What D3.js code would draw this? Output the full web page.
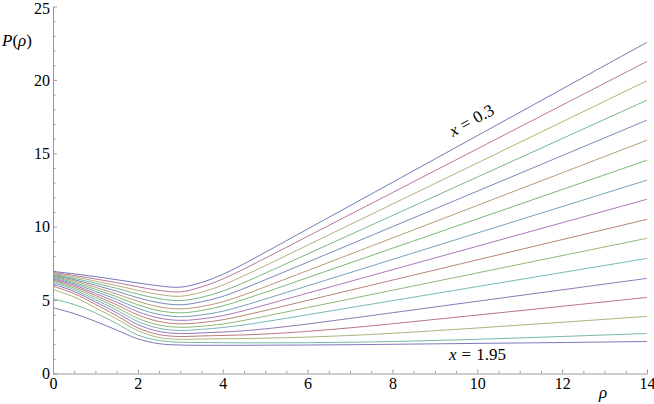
<!DOCTYPE html>
<html>
<head>
<meta charset="utf-8">
<script src="https://cdn.jsdelivr.net/npm/d3@7"></script>
<style>
  body { margin: 0; background: #fff; }
  svg { display: block; }
  svg text { font-family: "Liberation Serif", "Times New Roman", serif; }
</style>
</head>
<body>
<svg id="chart" width="654" height="404"></svg>
<script>
// sample points along rho
const rho = [0, 0.5, 1, 1.5, 2, 2.5, 3, 3.5, 4, 4.5, 5, 6, 7, 8, 10, 12, 14];

// P(rho) for each curve, top (x = 0.3) to bottom (x = 1.95)
const c01 = [6.95, 6.79, 6.60, 6.39, 6.17, 5.97, 5.88, 6.20, 6.75, 7.47, 8.25, 9.84, 11.43, 13.02, 16.20, 19.38, 22.56];
const c02 = [6.88, 6.68, 6.44, 6.19, 5.91, 5.66, 5.56, 5.90, 6.43, 7.12, 7.85, 9.34, 10.83, 12.32, 15.30, 18.28, 21.26];
const c03 = [6.81, 6.58, 6.29, 5.99, 5.66, 5.38, 5.26, 5.54, 6.02, 6.66, 7.34, 8.74, 10.14, 11.54, 14.34, 17.14, 19.94];
const c04 = [6.75, 6.48, 6.15, 5.80, 5.41, 5.10, 4.97, 5.19, 5.61, 6.19, 6.83, 8.14, 9.45, 10.76, 13.38, 16.00, 18.62];
const c05 = [6.69, 6.39, 6.01, 5.61, 5.16, 4.82, 4.68, 4.88, 5.25, 5.79, 6.38, 7.58, 8.79, 10.00, 12.42, 14.84, 17.26];
const c06 = [6.63, 6.30, 5.87, 5.42, 4.92, 4.54, 4.40, 4.56, 4.88, 5.36, 5.90, 7.01, 8.12, 9.23, 11.45, 13.67, 15.89];
const c07 = [6.57, 6.20, 5.73, 5.23, 4.68, 4.28, 4.13, 4.29, 4.60, 5.05, 5.53, 6.53, 7.53, 8.53, 10.53, 12.53, 14.53];
const c08 = [6.51, 6.11, 5.59, 5.05, 4.44, 4.02, 3.87, 3.99, 4.24, 4.63, 5.07, 5.97, 6.87, 7.77, 9.57, 11.37, 13.17];
const c09 = [6.44, 6.02, 5.45, 4.86, 4.21, 3.78, 3.62, 3.72, 3.94, 4.28, 4.67, 5.47, 6.27, 7.07, 8.67, 10.27, 11.87];
const c10 = [6.37, 5.92, 5.32, 4.68, 3.99, 3.54, 3.38, 3.47, 3.66, 3.96, 4.29, 4.98, 5.67, 6.36, 7.74, 9.12, 10.50];
const c11 = [6.29, 5.82, 5.18, 4.50, 3.76, 3.30, 3.15, 3.22, 3.37, 3.62, 3.90, 4.49, 5.08, 5.67, 6.85, 8.03, 9.21];
const c12 = [6.20, 5.71, 5.03, 4.32, 3.54, 3.08, 2.93, 3.01, 3.13, 3.31, 3.53, 4.00, 4.48, 4.96, 5.92, 6.88, 7.84];
const c13 = [6.09, 5.59, 4.88, 4.14, 3.33, 2.86, 2.72, 2.77, 2.82, 2.91, 3.04, 3.37, 3.75, 4.14, 4.92, 5.70, 6.48];
const c14 = [5.95, 5.44, 4.71, 3.94, 3.11, 2.65, 2.52, 2.56, 2.59, 2.63, 2.69, 2.87, 3.11, 3.39, 3.98, 4.58, 5.18];
const c15 = [5.72, 5.21, 4.48, 3.72, 2.92, 2.45, 2.33, 2.35, 2.37, 2.38, 2.41, 2.48, 2.59, 2.74, 3.10, 3.49, 3.89];
const c16 = [5.08, 4.70, 4.13, 3.40, 2.62, 2.25, 2.13, 2.11, 2.10, 2.09, 2.09, 2.10, 2.13, 2.18, 2.33, 2.52, 2.73];
const c17 = [4.48, 4.08, 3.55, 2.96, 2.36, 2.03, 1.94, 1.92, 1.92, 1.92, 1.93, 1.94, 1.96, 1.99, 2.05, 2.11, 2.18];

const series = [c01, c02, c03, c04, c05, c06, c07, c08, c09, c10, c11, c12, c13, c14, c15, c16, c17];

// Mathematica style hue cycle
const hues = [0.67, 0.9061, 0.1422, 0.3783, 0.6144, 0.0866, 0.3227, 0.5588, 0.7949,
              0.0310, 0.2671, 0.5032, 0.7393, 0.9754, 0.2115, 0.4476, 0.6837];

const xTicks = [0, 2, 4, 6, 8, 10, 12, 14];
const yTicks = [0, 5, 10, 15, 20, 25];

var svg = d3.select("#chart");

var xscale = d3.scaleLinear().domain([0, 14]).range([53, 647]);
var yscale = d3.scaleLinear().domain([0, 25]).range([373.5, 6.5]);

function hsv(h, s, v) {
    var c = d3.hsl(h * 360, 1, 0.5).rgb();
    // full hue colour -> given saturation/value
    var f = function (k) { return Math.round(255 * v * (1 - s + s * k / 255)); };
    return d3.rgb(f(c.r), f(c.g), f(c.b)).toString();
}

var axisColor = "#9a9a9a";

// minor ticks
var minorX = d3.range(0, 14.01, 0.5).filter(function (d) { return xTicks.indexOf(d) < 0; });
var minorY = d3.range(0, 25.01, 1).filter(function (d) { return yTicks.indexOf(d) < 0; });

svg.append("g")
    .attr("transform", "translate(0," + yscale(0) + ")")
    .call(d3.axisBottom(xscale).tickValues(minorX).tickSize(-2.5).tickSizeOuter(0).tickFormat(""))
    .call(function (g) { g.select(".domain").remove(); })
    .selectAll("line").attr("stroke", axisColor);

svg.append("g")
    .attr("transform", "translate(" + xscale(0) + ",0)")
    .call(d3.axisLeft(yscale).tickValues(minorY).tickSize(-2.5).tickSizeOuter(0).tickFormat(""))
    .call(function (g) { g.select(".domain").remove(); })
    .selectAll("line").attr("stroke", axisColor);

// curves
var line = d3.line()
    .x(function (d) { return xscale(d[0]); })
    .y(function (d) { return yscale(d[1]); })
    .curve(d3.curveCatmullRom.alpha(0.5));

svg.append("g").selectAll("path")
    .data(series)
    .enter()
    .append("path")
    .attr("d", function (vals) { return line(vals.map(function (v, i) { return [rho[i], v]; })); })
    .attr("fill", "none")
    .attr("stroke", function (d, i) { return hsv(hues[i], 0.6, 0.6); })
    .attr("stroke-width", 1)
    .attr("stroke-opacity", 0.7);

// major axes
var xaxis = svg.append("g")
    .attr("transform", "translate(0," + yscale(0) + ")")
    .call(d3.axisBottom(xscale).tickValues(xTicks).tickSize(-4).tickSizeOuter(0).tickPadding(4));
var yaxis = svg.append("g")
    .attr("transform", "translate(" + xscale(0) + ",0)")
    .call(d3.axisLeft(yscale).tickValues(yTicks).tickSize(-4).tickSizeOuter(0).tickPadding(3));

[xaxis, yaxis].forEach(function (ax) {
    ax.attr("font-size", 16).attr("font-family", null);
    ax.select(".domain").attr("stroke", axisColor);
    ax.selectAll(".tick line").attr("stroke", axisColor);
    ax.selectAll(".tick text").attr("fill", "#000");
});
// keep the top label inside the picture
yaxis.selectAll(".tick text").filter(function (d) { return d === 25; }).attr("dy", "0.42em");

// axis labels
var pl = svg.append("text").attr("x", 2).attr("y", 46).attr("font-size", 17);
pl.append("tspan").attr("font-style", "italic").text("P");
pl.append("tspan").text("(");
pl.append("tspan").attr("font-style", "italic").text("ρ");
pl.append("tspan").text(")");

svg.append("text")
    .attr("x", 599).attr("y", 398)
    .attr("font-size", 17).attr("font-style", "italic")
    .text("ρ");

// curve annotations
function annot(g, value) {
    g.attr("font-size", 17);
    g.append("tspan").attr("font-style", "italic").text("x");
    g.append("tspan").attr("dx", 5).text("=");
    g.append("tspan").attr("dx", 5).text(value);
}

annot(svg.append("text").attr("transform", "translate(453,137) rotate(-29)"), "0.3");
annot(svg.append("text").attr("x", 449).attr("y", 360), "1.95");
</script>
</body>
</html>
